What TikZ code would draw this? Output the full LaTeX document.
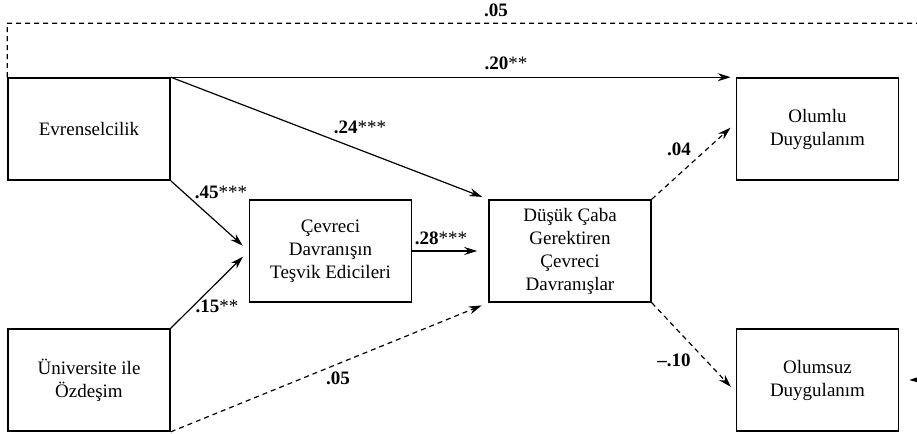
\documentclass[tikz,border=0pt]{standalone}
\usepackage{fontspec}
\setmainfont{Liberation Serif}
\usetikzlibrary{arrows.meta}
\newcommand{\stars}[1]{{\mdseries#1}}
\tikzset{%
  >={Stealth[width=4pt,length=6.5pt]},
  % Specifications for style of nodes:
       base/.style = {rectangle, draw=black, line width=0.8pt,
                      minimum width=81pt, minimum height=51pt,
                      align=center, font=\fontsize{9.5}{11.5}\selectfont},
       coef/.style = {inner sep=0pt, font=\fontsize{9.5}{11}\selectfont\bfseries},
       nsig/.style = {dash pattern=on 2.5pt off 2pt},
}

\begin{document}
\begin{tikzpicture}[x=0.5pt, y=-0.5pt, line width=0.6pt]
  \useasboundingbox (0,0) rectangle (917,434);
  % Specification of nodes (position, etc.)
  \node (onEvr) [base] at (89,129)    {Evrenselcilik};
  \node (onUni) [base] at (89,380)    {Üniversite ile\\Özdeşim};
  \node (onCev) [base] at (330.5,251) {Çevreci\\Davranışın\\Teşvik Edicileri};
  \node (onDus) [base] at (570,251)   {Düşük Çaba\\Gerektiren\\Çevreci\\Davranışlar};
  \node (onOlm) [base] at (817.5,129) {Olumlu\\Duygulanım};
  \node (onOls) [base] at (817.5,380) {Olumsuz\\Duygulanım};
  % paths and coefficients
  \draw[->, nsig] (onEvr.north west) -- ++(0,-54) -- ++(930,0) -- ++(0,356)
     -- ([xshift=5pt]onOls.east);
  \draw[->] (onEvr.north east) -- ([xshift=-2.5pt]onOlm.north west);
  \draw[->, shorten >=3.2pt] (onEvr.north east) -- (onDus.north west);
  \draw[->, shorten >=4pt] (onEvr.south east) -- (onCev.west);
  \draw[->, shorten >=4pt] (onUni.north east) -- (onCev.west);
  \draw[->, shorten >=5.5pt] (onCev.east) -- (onDus.west);
  \draw[->, nsig, shorten >=3.5pt] (onUni.south east) -- (onDus.south west);
  \draw[->, nsig, shorten >=3.5pt] (onDus.north east) -- ([yshift=3pt]onOlm.west);
  \draw[->, nsig, shorten >=3.5pt] (onDus.south east) -- ([yshift=-6pt]onOls.west);
  \node (cTop) [coef] at (496,10)  {.05};
  \node (cEO)  [coef] at (506,63)  {.20\stars{**}};
  \node (cED)  [coef] at (360,127) {.24\stars{***}};
  \node (cEC)  [coef] at (221,192) {.45\stars{***}};
  \node (cUC)  [coef] at (217,306) {.15\stars{**}};
  \node (cCD)  [coef] at (441,238) {.28\stars{***}};
  \node (cUD)  [coef] at (338,378) {.05};
  \node (cDO)  [coef] at (679,149) {.04};
  \node (cDN)  [coef] at (674,360) {--.10};
\end{tikzpicture}
\end{document}
